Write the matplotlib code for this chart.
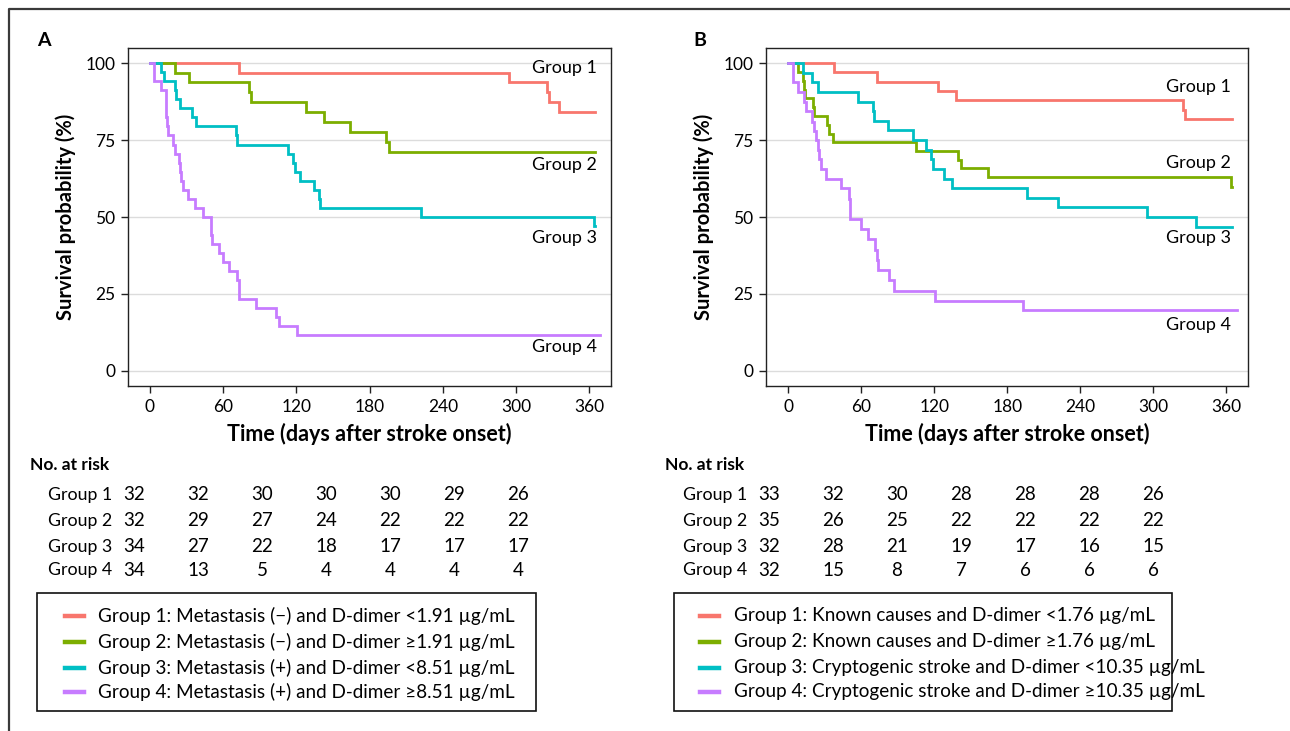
import matplotlib
matplotlib.use("Agg")
import matplotlib.pyplot as plt
from matplotlib.lines import Line2D
from matplotlib.patches import Rectangle

plt.rcParams['font.family'] = ['Lato', 'DejaVu Sans']

W, H = 1290, 731

# ---------------- data ----------------
groups = ["Group 1", "Group 2", "Group 3", "Group 4"]
colors = ["#F8766D", "#7CAE00", "#00BFC4", "#C77CFF"]

# Panel A: event times (days) and survival (%) after each step
a_g1_t = [73, 294.5, 325.2, 327, 335]
a_g1_s = [96.9, 93.75, 90.6, 87.5, 84.0]
a_g2_t = [20.5, 32, 81.5, 82.5, 127.6, 142.6, 163.9, 193.2, 195.9]
a_g2_s = [96.9, 93.75, 90.6, 87.5, 84.2, 80.9, 77.7, 74.4, 71.1]
a_g3_t = [8.7, 11.5, 20.5, 21.3, 24.6, 34.2, 37.7, 70.5, 71.0, 112.9, 117.5,
          118.9, 123, 134.4, 138.5, 139, 222.1, 364]
a_g3_s = [97.1, 94.1, 91.2, 88.2, 85.3, 82.4, 79.4, 76.5, 73.5, 70.6, 67.6,
          64.7, 61.8, 58.8, 55.9, 52.9, 50.0, 47.1]
a_g4_t = [3.5, 3.6, 8.7, 12.8, 13.1, 13.4, 13.7, 14.8, 18.6, 20.5, 24.0, 24.6,
          25.7, 26.8, 30.9, 36.6, 43.2, 49.7, 49.9, 50.6, 56.8, 59.5, 65.0,
          71.0, 73.2, 73.4, 86.9, 103.0, 106.0, 120.8]
a_g4_s = [97.1, 94.1, 91.2, 88.2, 85.3, 82.4, 79.4, 76.5, 73.5, 70.6, 67.6, 64.7,
          61.8, 58.8, 55.9, 52.9, 50.0, 47.1, 44.1, 41.2, 38.2, 35.3, 32.4,
          29.4, 26.5, 23.5, 20.6, 17.6, 14.7, 11.8]
a_end = [364.8, 364.8, 364.5, 368.5]

# Panel B
b_g1_t = [38, 73.2, 123.2, 138.3, 324.4, 326.4]
b_g1_s = [97.0, 93.9, 90.9, 87.9, 84.8, 81.8]
b_g2_t = [8.5, 12.5, 13.0, 13.5, 20.7, 21.5, 31.7, 33.9, 36.6, 105.3, 139.4,
          142.2, 164.0, 364]
b_g2_s = [97.1, 94.3, 91.4, 88.6, 85.7, 82.9, 80.0, 77.1, 74.3, 71.3, 68.6,
          65.8, 62.9, 59.9]
b_g3_t = [12, 19.4, 24.8, 57.1, 69.9, 70.7, 82.2, 102.7, 113.1, 117.7, 119,
          127.9, 135, 195.9, 222.1, 295, 334.8]
b_g3_s = [96.9, 93.75, 90.6, 87.5, 84.4, 81.25, 78.1, 75.0, 71.9, 68.75, 65.6,
          62.5, 59.4, 56.2, 53.1, 50.0, 46.9]
b_g4_t = [3.6, 3.8, 8.5, 13.1, 14.5, 19.9, 21.6, 22.9, 24.3, 25.6, 26.7, 30.9,
          43.2, 50.2, 50.5, 50.9, 59.8, 65.3, 71.2, 73.4, 73.9, 82.8, 87.1,
          121.0, 193.2]
b_g4_s = [96.9, 93.75, 90.6, 87.5, 84.4, 81.0, 77.9, 75.0, 71.9, 68.7, 65.6, 62.5,
          59.4, 56.0, 52.6, 49.4, 46.1, 42.9, 39.3, 36.0, 32.8, 29.5, 26.1,
          22.8, 19.7]
b_end = [364.6, 364.5, 364.6, 368.6]

x_ticks = [0, 60, 120, 180, 240, 300, 360]
y_ticks = [0, 25, 50, 75, 100]

a_risk = [[32, 32, 30, 30, 30, 29, 26],
          [32, 29, 27, 24, 22, 22, 22],
          [34, 27, 22, 18, 17, 17, 17],
          [34, 13, 5, 4, 4, 4, 4]]
b_risk = [[33, 32, 30, 28, 28, 28, 26],
          [35, 26, 25, 22, 22, 22, 22],
          [32, 28, 21, 19, 17, 16, 15],
          [32, 15, 8, 7, 6, 6, 6]]

a_legend = ["Group 1: Metastasis (\u2212) and D-dimer <1.91 \u00b5g/mL",
            "Group 2: Metastasis (\u2212) and D-dimer \u22651.91 \u00b5g/mL",
            "Group 3: Metastasis (+) and D-dimer <8.51 \u00b5g/mL",
            "Group 4: Metastasis (+) and D-dimer \u22658.51 \u00b5g/mL"]
b_legend = ["Group 1: Known causes and D-dimer <1.76 \u00b5g/mL",
            "Group 2: Known causes and D-dimer \u22651.76 \u00b5g/mL",
            "Group 3: Cryptogenic stroke and D-dimer <10.35 \u00b5g/mL",
            "Group 4: Cryptogenic stroke and D-dimer \u226510.35 \u00b5g/mL"]

a_label_y = [98.4, 66.9, 43.2, 7.8]
b_label_y = [92.3, 67.5, 43.2, 14.9]

# ---------------- figure ----------------
fig = plt.figure(figsize=(W / 100, H / 100), dpi=100)


def fx(px):
    return px / W


def fy(py):
    return 1 - py / H


def panel(left_px, right_px, times, survs, ends, label_y, label_x, letter, letter_x):
    ax = fig.add_axes([fx(left_px), fy(386), (right_px - left_px) / W, (386 - 48) / H])
    for t, s, e, c in zip(times, survs, ends, colors):
        xs = [0] + list(t) + [e]
        ys = [100] + list(s) + [s[-1]]
        ax.step(xs, ys, where='post', color=c, lw=2.0, solid_joinstyle='miter')
    ax.set_xlim(-18.2, 377.8)
    ax.set_ylim(-4.9, 104.9)
    ax.set_xticks(x_ticks)
    ax.set_yticks(y_ticks)
    ax.yaxis.grid(True, color='#dcdcdc', lw=1.0)
    ax.set_axisbelow(True)
    for sp in ax.spines.values():
        sp.set_color('#222222')
        sp.set_linewidth(1.0)
    ax.tick_params(direction='out', length=5, width=1, labelsize=12.5, pad=4,
                   color='#222222')
    ax.set_xlabel('Time (days after stroke onset)', fontsize=15.5, weight='bold')
    ax.xaxis.set_label_coords(0.5, -0.11)
    ax.set_ylabel('Survival probability (%)', fontsize=14.5, weight='bold')
    ax.yaxis.set_label_coords(-0.108, 0.5)
    for g, yv in zip(groups, label_y):
        ax.text(label_x, yv, g, ha='right', va='center', fontsize=13)
    fig.text(fx(letter_x), fy(41), letter, fontsize=14, weight='bold', ha='left', va='center')
    return ax


panel(127.7, 611, [a_g1_t, a_g2_t, a_g3_t, a_g4_t], [a_g1_s, a_g2_s, a_g3_s, a_g4_s],
      a_end, a_label_y, 366.4, 'A', 37)
panel(766, 1248, [b_g1_t, b_g2_t, b_g3_t, b_g4_t], [b_g1_s, b_g2_s, b_g3_s, b_g4_s],
      b_end, b_label_y, 363.5, 'B', 693)


def risk_table(x_title, x_group, x_num0, risk):
    fig.text(fx(x_title), fy(465), 'No. at risk', fontsize=12.5, weight='bold',
             ha='left', va='center')
    rows_y = [495, 521, 547, 570]
    for g, row, ry in zip(groups, risk, rows_y):
        fig.text(fx(x_group), fy(ry), g, fontsize=12.8, ha='left', va='center')
        for i, v in enumerate(row):
            fig.text(fx(x_num0 + 64 * i), fy(ry), str(v), fontsize=13.5,
                     ha='center', va='center')


risk_table(30, 48, 134, a_risk)
risk_table(665, 683, 769, b_risk)


def legend_box(x0, x1, labels, hx0, hx1, tx):
    fig.patches.append(Rectangle((fx(x0), fy(711)), (x1 - x0) / W, (711 - 593) / H,
                                 transform=fig.transFigure, fill=False,
                                 edgecolor='#111111', lw=1.2))
    rows_y = [615.7, 641.7, 667.7, 691.7]
    for lab, c, ry in zip(labels, colors, rows_y):
        fig.add_artist(Line2D([fx(hx0), fx(hx1)], [fy(ry), fy(ry)], color=c, lw=3.2,
                              transform=fig.transFigure))
        fig.text(fx(tx), fy(ry), lab, fontsize=13.6, ha='left', va='center')


legend_box(37, 536, a_legend, 65, 84, 98)
legend_box(674, 1172, b_legend, 700, 719, 734)

# outer frame (top and left)
fig.add_artist(Line2D([fx(8.5), fx(8.5), fx(1290)], [fy(731), fy(9), fy(9)],
                      color='#3a3a3a', lw=1.6, transform=fig.transFigure))

fig.savefig('out.png', dpi=100)
